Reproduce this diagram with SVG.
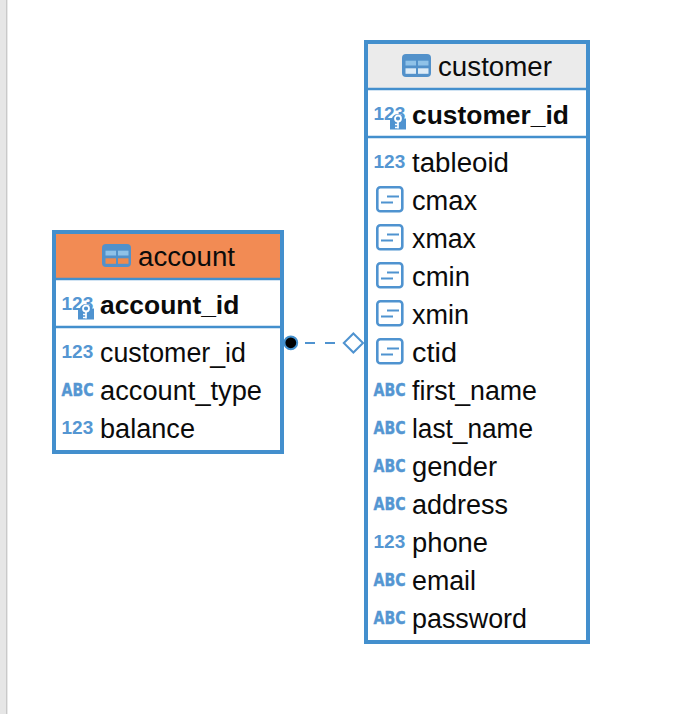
<svg xmlns="http://www.w3.org/2000/svg" width="694" height="714" viewBox="0 0 694 714">
<style>
text{font-family:"Liberation Sans",Arial,sans-serif;fill:#0b0b0b}
.box{fill:#fff;stroke:#438fcd;stroke-width:4}
.sep{stroke:#438fcd;stroke-width:2.4}
.t{font-size:27px}
.k{font-size:26.4px;font-weight:bold}
.c{font-size:27px}
.n{font-size:19px;font-weight:bold;fill:#5496d2}
.a{font-family:"DejaVu Sans",sans-serif;font-size:17.5px;font-weight:bold;fill:#5496d2;stroke:#5496d2;stroke-width:.4}
.ic{fill:none;stroke:#4f93d0;stroke-width:2.6}
.il{fill:none;stroke:#4f93d0;stroke-width:2}
</style>
<defs>
<g id="col">
<rect class="ic" x="1.300" y="1.300" width="25" height="24" rx="3"/>
<path class="il" d="M11 10.500H23M5 16.500H17"/>
</g>
<g id="key">
<path fill="#4f93d0" d="M0 4H1.800A6.500 6.500 0 0 1 14.200 4H16V15H0Z"/>
<circle cx="8" cy="4" r="3" fill="none" stroke="#fff" stroke-width="1.800"/>
<path d="M8 7V14M8 10H5M8 13H5" stroke="#fff" stroke-width="1.700" fill="none"/>
</g>
</defs>
<rect x="0" y="0" width="6" height="714" fill="#e6e6e6"/>
<rect x="6" y="0" width="1.400" height="714" fill="#c9c9c9"/>

<g id="connectors">
<path d="M305 343H315M325 343H335" fill="none" stroke="#4f93d0" stroke-width="2"/>
<circle cx="290.800" cy="342.800" r="6.400" fill="#000" stroke="#438fcd" stroke-width="2"/>
<path d="M353.400 333.500L363 343L353.400 352.500L343.800 343Z" fill="#fff" stroke="#4f93d0" stroke-width="2"/>
</g>

<g id="account">
<rect class="box" x="54" y="232" width="228" height="220"/>
<rect x="56" y="234" width="224" height="44" fill="#f28b54"/>
<path class="sep" d="M56 279H280M56 327H280"/>
<rect x="102" y="244" width="29" height="23" rx="4" fill="#5291ca"/>
<rect x="105.500" y="250.700" width="10.500" height="4.800" fill="#8fc2e8"/>
<rect x="118" y="250.700" width="10.500" height="4.800" fill="#8fc2e8"/>
<rect x="105.500" y="258.300" width="10.500" height="5.500" fill="#ee8a4e"/>
<rect x="118" y="258.300" width="10.500" height="5.500" fill="#ee8a4e"/>
<text class="t" x="138" y="266" textLength="97" lengthAdjust="spacingAndGlyphs">account</text>
<text class="n" x="61.500" y="310">123</text>
<use href="#key" x="78" y="304.500"/>
<text class="k" x="100" y="314">account_id</text>
<text class="n" x="61.500" y="358">123</text>
<text class="c" x="100" y="362" textLength="146" lengthAdjust="spacingAndGlyphs">customer_id</text>
<text class="a" x="61.500" y="395.500" textLength="32" lengthAdjust="spacingAndGlyphs">ABC</text>
<text class="c" x="100" y="400" textLength="162" lengthAdjust="spacingAndGlyphs">account_type</text>
<text class="n" x="61.500" y="434">123</text>
<text class="c" x="100" y="438" textLength="95" lengthAdjust="spacingAndGlyphs">balance</text>
</g>

<g id="customer">
<rect class="box" x="366" y="42" width="222" height="600"/>
<rect x="368" y="44" width="218" height="44" fill="#ebebeb"/>
<path class="sep" d="M368 89H586M368 137H586"/>
<rect x="402" y="54" width="29" height="23" rx="4" fill="#5291ca"/>
<rect x="405.500" y="60.700" width="10.500" height="4.800" fill="#8fc2e8"/>
<rect x="418" y="60.700" width="10.500" height="4.800" fill="#8fc2e8"/>
<rect x="405.500" y="68.300" width="10.500" height="5.500" fill="#dcebf7"/>
<rect x="418" y="68.300" width="10.500" height="5.500" fill="#dcebf7"/>
<text class="t" x="438" y="76" textLength="114" lengthAdjust="spacingAndGlyphs">customer</text>
<text class="n" x="373.500" y="120">123</text>
<use href="#key" x="390" y="114.500"/>
<text class="k" x="412" y="124">customer_id</text>
<text class="n" x="373.500" y="168">123</text>
<text class="c" x="412" y="172" textLength="97" lengthAdjust="spacingAndGlyphs">tableoid</text>
<use href="#col" x="376" y="186"/>
<text class="c" x="412" y="210" textLength="65" lengthAdjust="spacingAndGlyphs">cmax</text>
<use href="#col" x="376" y="224"/>
<text class="c" x="412" y="248" textLength="64" lengthAdjust="spacingAndGlyphs">xmax</text>
<use href="#col" x="376" y="262"/>
<text class="c" x="412" y="286" textLength="58" lengthAdjust="spacingAndGlyphs">cmin</text>
<use href="#col" x="376" y="300"/>
<text class="c" x="412" y="324" textLength="57" lengthAdjust="spacingAndGlyphs">xmin</text>
<use href="#col" x="376" y="338"/>
<text class="c" x="412" y="362" textLength="45" lengthAdjust="spacingAndGlyphs">ctid</text>
<text class="a" x="373.500" y="395.500" textLength="32" lengthAdjust="spacingAndGlyphs">ABC</text>
<text class="c" x="412" y="400" textLength="125" lengthAdjust="spacingAndGlyphs">first_name</text>
<text class="a" x="373.500" y="433.500" textLength="32" lengthAdjust="spacingAndGlyphs">ABC</text>
<text class="c" x="412" y="438" textLength="121" lengthAdjust="spacingAndGlyphs">last_name</text>
<text class="a" x="373.500" y="471.500" textLength="32" lengthAdjust="spacingAndGlyphs">ABC</text>
<text class="c" x="412" y="476" textLength="85" lengthAdjust="spacingAndGlyphs">gender</text>
<text class="a" x="373.500" y="509.500" textLength="32" lengthAdjust="spacingAndGlyphs">ABC</text>
<text class="c" x="412" y="514" textLength="96" lengthAdjust="spacingAndGlyphs">address</text>
<text class="n" x="373.500" y="548">123</text>
<text class="c" x="412" y="552" textLength="76" lengthAdjust="spacingAndGlyphs">phone</text>
<text class="a" x="373.500" y="585.500" textLength="32" lengthAdjust="spacingAndGlyphs">ABC</text>
<text class="c" x="412" y="590" textLength="64" lengthAdjust="spacingAndGlyphs">email</text>
<text class="a" x="373.500" y="623.500" textLength="32" lengthAdjust="spacingAndGlyphs">ABC</text>
<text class="c" x="412" y="628" textLength="115" lengthAdjust="spacingAndGlyphs">password</text>
</g>
</svg>
